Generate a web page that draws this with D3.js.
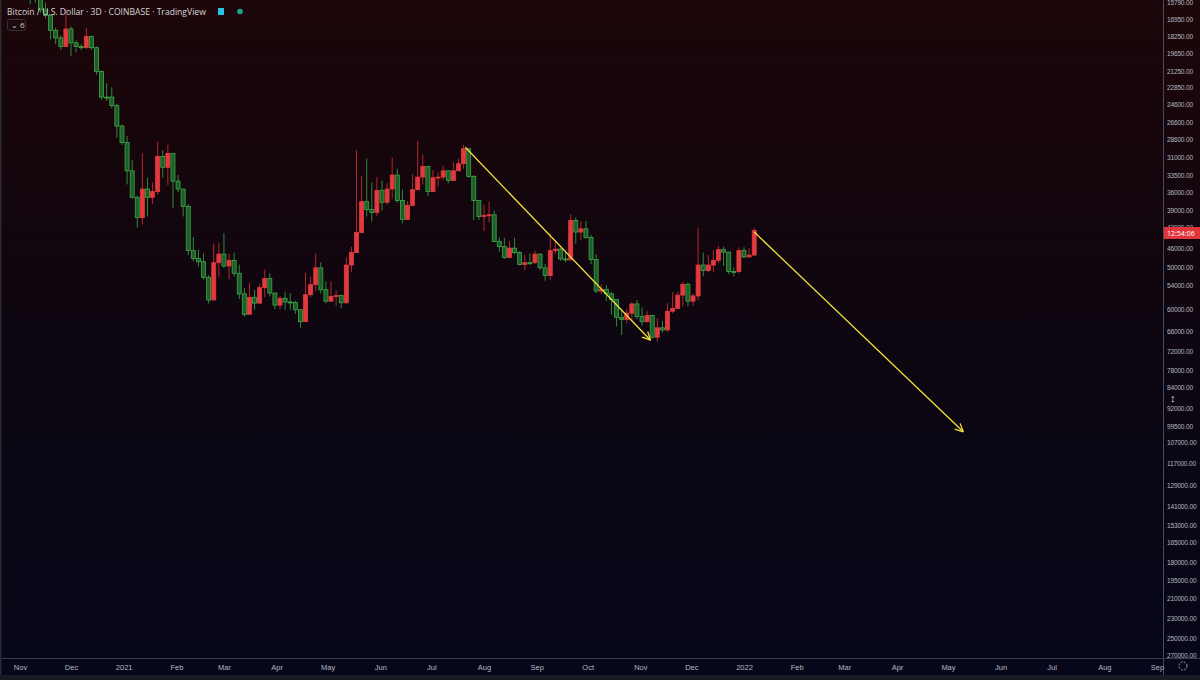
<!DOCTYPE html>
<html><head><meta charset="utf-8">
<script src="https://cdn.jsdelivr.net/npm/d3@7"></script>
<style>html,body{margin:0;padding:0;background:#000;}svg{display:block;font-family:"Open Sans",sans-serif;}</style>
</head><body><svg id="c" width="1200" height="680"></svg>
<script>
// 3-day BTC candles starting 2020-11-01 (thousands USD)
const startDate = "2020-11-01";
const firstOpen = 13.5;
const closes = [13.8,14.1,15.0,15.3,16.3,16.7,17.8,18.4,19.1,17.7,18.8,19.1,19.2,18.3,19.2,21.3,23.8,23.8,24.7,27.0,29.0,32.8,36.8,40.2,35.5,36.8,35.9,30.8,32.3,30.4,34.3,35.5,38.3,46.4,48.0,48.7,52.1,57.5,48.9,47.1,49.6,48.4,51.2,56.0,61.2,56.9,58.3,54.5,52.4,55.8,58.8,57.1,58.0,58.1,60.0,63.2,56.2,53.8,50.0,55.0,57.8,56.6,56.4,58.2,49.4,46.8,42.9,37.5,38.8,39.3,35.7,37.6,35.5,33.4,37.3,40.5,38.1,35.6,33.7,32.2,35.9,33.8,33.7,32.8,34.2,32.8,31.8,29.8,33.6,37.3,40.0,39.8,39.7,44.6,45.6,47.8,45.9,46.8,49.3,48.9,48.9,47.1,50.0,51.7,46.4,46.1,48.1,48.3,40.7,42.8,42.2,43.8,48.2,55.3,54.9,56.0,57.4,62.0,62.6,60.9,58.5,61.8,63.2,61.5,67.6,64.9,65.5,60.4,59.7,56.3,53.7,57.8,56.5,49.4,50.6,49.4,48.4,46.2,46.7,50.8,50.8,46.4,47.7,47.3,42.5];
const highs  = [14.1,14.2,15.9,15.8,16.5,16.9,18.5,18.9,19.4,19.1,19.9,19.6,19.4,19.3,19.4,21.6,24.1,24.2,25.0,28.4,29.3,34.8,37.0,42.0,41.4,40.0,37.9,36.4,33.8,34.9,38.6,36.0,40.0,47.3,48.6,49.7,52.6,58.4,57.6,52.0,50.0,52.6,52.0,57.3,61.8,61.0,60.0,58.4,56.8,56.6,59.9,59.9,60.0,60.0,61.1,64.9,63.0,56.8,55.3,56.0,58.4,58.0,59.0,59.6,58.5,51.0,46.6,42.5,40.0,40.9,39.9,39.0,38.0,37.0,37.7,41.2,40.6,38.3,35.7,34.8,36.6,35.9,35.1,34.1,34.6,34.0,32.6,32.5,33.8,40.6,40.6,42.6,41.0,44.7,46.6,48.1,48.0,47.1,49.5,50.5,49.4,49.2,50.5,52.9,52.7,47.0,48.5,48.8,48.4,45.0,44.3,44.1,49.2,55.8,56.1,57.8,61.3,64.5,67.0,63.7,63.0,62.5,64.3,63.5,68.0,69.0,66.3,66.0,60.9,58.7,59.2,59.1,59.0,57.6,51.9,51.0,50.9,49.0,49.6,51.4,51.9,51.2,47.9,47.6,47.5];
const lows   = [13.2,13.5,14.3,14.8,15.2,15.8,16.8,17.6,18.2,16.2,17.5,18.6,18.9,17.6,18.2,19.1,21.2,22.4,22.8,24.5,26.8,28.2,31.3,36.5,30.4,33.8,34.5,28.9,30.0,29.3,32.0,33.4,36.1,37.9,43.7,46.2,47.0,51.6,45.0,44.9,43.0,47.1,46.8,49.3,54.6,53.3,55.0,53.6,50.4,51.2,55.8,56.5,55.5,55.8,57.7,59.9,51.0,52.0,47.0,48.8,53.0,53.0,55.2,56.2,47.8,45.6,30.0,33.5,31.1,34.5,33.7,34.2,34.6,31.0,32.5,35.6,37.4,33.3,28.8,30.6,32.6,32.7,33.0,32.1,32.7,31.6,31.1,29.3,29.7,33.4,38.1,38.0,37.5,39.0,43.8,43.9,44.5,43.9,46.5,47.2,47.0,46.4,47.0,49.1,43.0,44.7,45.9,46.8,39.6,40.2,40.8,40.8,43.3,47.1,53.7,53.9,55.5,59.5,60.0,59.8,58.1,57.5,59.5,60.4,61.4,62.2,63.0,58.3,55.6,55.4,53.2,53.3,55.9,42.0,46.8,47.3,46.3,45.5,45.6,46.6,49.9,45.8,45.7,45.9,42.0];
const priceTicks = [15790,16950,18250,19650,21250,22850,24600,26600,28600,31000,33500,36000,39000,42000,46000,50000,54000,60000,66000,72000,78000,84000,92000,99500,107000,117000,129000,141000,153000,165000,180000,195000,210000,230000,250000,270000];
const timeTicks = ["2020-11-01","2020-12-01","2021-01-01","2021-02-01","2021-03-01","2021-04-01","2021-05-01","2021-06-01","2021-07-01","2021-08-01","2021-09-01","2021-10-01","2021-11-01","2021-12-01","2022-01-01","2022-02-01","2022-03-01","2022-04-01","2022-05-01","2022-06-01","2022-07-01","2022-08-01","2022-09-01"];
const arrows = [
  {from:["2021-07-21",29600], to:["2021-11-07",68500]},
  {from:["2022-01-07",42800], to:["2022-05-10",102000]}
];

const W=1200,H=680, plotR=1163, plotB=658;
const svg=d3.select("#c");
const defs=svg.append("defs");
const g=defs.append("linearGradient").attr("id","bg").attr("x1",0).attr("y1",0).attr("x2",0).attr("y2",1);
g.append("stop").attr("offset","0%").attr("stop-color","#1c0609");
g.append("stop").attr("offset","55%").attr("stop-color","#0c0611");
g.append("stop").attr("offset","100%").attr("stop-color","#06071a");
svg.append("rect").attr("width",W).attr("height",H).attr("fill","url(#bg)");

const parse=d3.timeParse("%Y-%m-%d");
const x=d3.scaleTime().domain([parse("2020-11-01"),parse("2022-09-01")]).range([20,1157]);
const y=d3.scaleLog().domain([16950,250000]).range([19,638]);

const t0=parse(startDate);
const candles=closes.map((c,i)=>({
  date:d3.timeDay.offset(t0,3*i),
  o:(i===0?firstOpen:closes[i-1])*1000, c:c*1000, h:highs[i]*1000, l:lows[i]*1000
}));

const clip=defs.append("clipPath").attr("id","pc");
clip.append("rect").attr("x",0).attr("y",0).attr("width",plotR).attr("height",plotB);
const plot=svg.append("g").attr("clip-path","url(#pc)");

const bw=4;
const cg=plot.selectAll("g.cd").data(candles).join("g");
cg.append("line")
  .attr("x1",d=>x(d.date)).attr("x2",d=>x(d.date))
  .attr("y1",d=>y(d.h)).attr("y2",d=>y(d.l))
  .attr("stroke",d=>d.c>=d.o?"#2f8a3a":"#b3262b").attr("stroke-width",1);
cg.append("rect")
  .attr("x",d=>x(d.date)-bw/2).attr("width",bw)
  .attr("y",d=>Math.min(y(d.o),y(d.c)))
  .attr("height",d=>Math.max(1,Math.abs(y(d.o)-y(d.c))))
  .attr("fill",d=>d.c>=d.o?"#1d5e27":"#e23a3e")
  .attr("stroke",d=>d.c>=d.o?"#3da84b":"#e23a3e").attr("stroke-width",0.8);

// arrows
arrows.forEach(a=>{
  const x1=x(parse(a.from[0])),y1=y(a.from[1]),x2=x(parse(a.to[0])),y2=y(a.to[1]);
  plot.append("line").attr("x1",x1).attr("y1",y1).attr("x2",x2).attr("y2",y2)
    .attr("stroke","#f2e13a").attr("stroke-width",1.3);
  const ang=Math.atan2(y2-y1,x2-x1), L=9;
  [0.5,-0.5].forEach(s=>{
    const aa=ang+Math.PI+s*0.9;
    plot.append("line").attr("x1",x2).attr("y1",y2)
      .attr("x2",x2+L*Math.cos(aa)).attr("y2",y2+L*Math.sin(aa))
      .attr("stroke","#f2e13a").attr("stroke-width",1.3);
  });
});

// axes separators
svg.append("line").attr("x1",plotR+0.5).attr("x2",plotR+0.5).attr("y1",0).attr("y2",H).attr("stroke","#4a4a55");
svg.append("line").attr("x1",0).attr("x2",W).attr("y1",plotB+0.5).attr("y2",plotB+0.5).attr("stroke","#3a3a48");
svg.append("rect").attr("x",0).attr("y",0).attr("width",1.5).attr("height",H).attr("fill","#2a2a33");

// right axis
const ya=svg.append("g").attr("transform",`translate(${plotR},0)`)
  .call(d3.axisRight(y).tickValues(priceTicks).tickSize(0).tickPadding(4).tickFormat(d=>d.toFixed(2)));
ya.select(".domain").remove();
ya.selectAll("text").attr("fill","#b5b8c0").attr("font-size",6.6).attr("letter-spacing",-0.2);

// bottom axis
const fmtT=d=>d.getMonth()===0?d3.timeFormat("%Y")(d):d3.timeFormat("%b")(d);
const xa=svg.append("g").attr("transform",`translate(0,${plotB})`)
  .call(d3.axisBottom(x).tickValues(timeTicks.map(parse)).tickSize(0).tickPadding(7).tickFormat(fmtT));
xa.select(".domain").remove();
xa.selectAll("text").attr("fill","#b5b8c0").attr("font-size",7.5);

// countdown label
svg.append("rect").attr("x",plotR+1).attr("y",227).attr("width",36).attr("height",12).attr("fill","#e2353b");
svg.append("text").attr("x",plotR+4).attr("y",236).attr("fill","#fff").attr("font-size",7).text("12:54:06");
// cursor icon
svg.append("text").attr("x",1170).attr("y",402).attr("fill","#ddd").attr("font-size",11).text("↕");
// gear icon
svg.append("circle").attr("cx",1183).attr("cy",666).attr("r",4).attr("fill","none").attr("stroke","#9a9aa5").attr("stroke-dasharray","2,1.2");
svg.append("rect").attr("x",0).attr("y",675).attr("width",W).attr("height",5).attr("fill","#1a1a24");

// header
svg.append("text").attr("x",7).attr("y",15).attr("fill","#d6d6dc").attr("font-size",8.6)
  .text("Bitcoin / U.S. Dollar · 3D · COINBASE · TradingView");
svg.append("rect").attr("x",218).attr("y",8).attr("width",6).attr("height",7).attr("fill","#2bc0e4");
svg.append("circle").attr("cx",240).attr("cy",11.5).attr("r",2.8).attr("fill","#1ea58a");
svg.append("rect").attr("x",7.5).attr("y",19.5).attr("width",18).attr("height",11).attr("rx",2).attr("fill","#1a0a0d").attr("stroke","#3a3036");
svg.append("text").attr("x",11).attr("y",28).attr("fill","#ccc").attr("font-size",8).text("⌄ 6");
</script></body></html>
